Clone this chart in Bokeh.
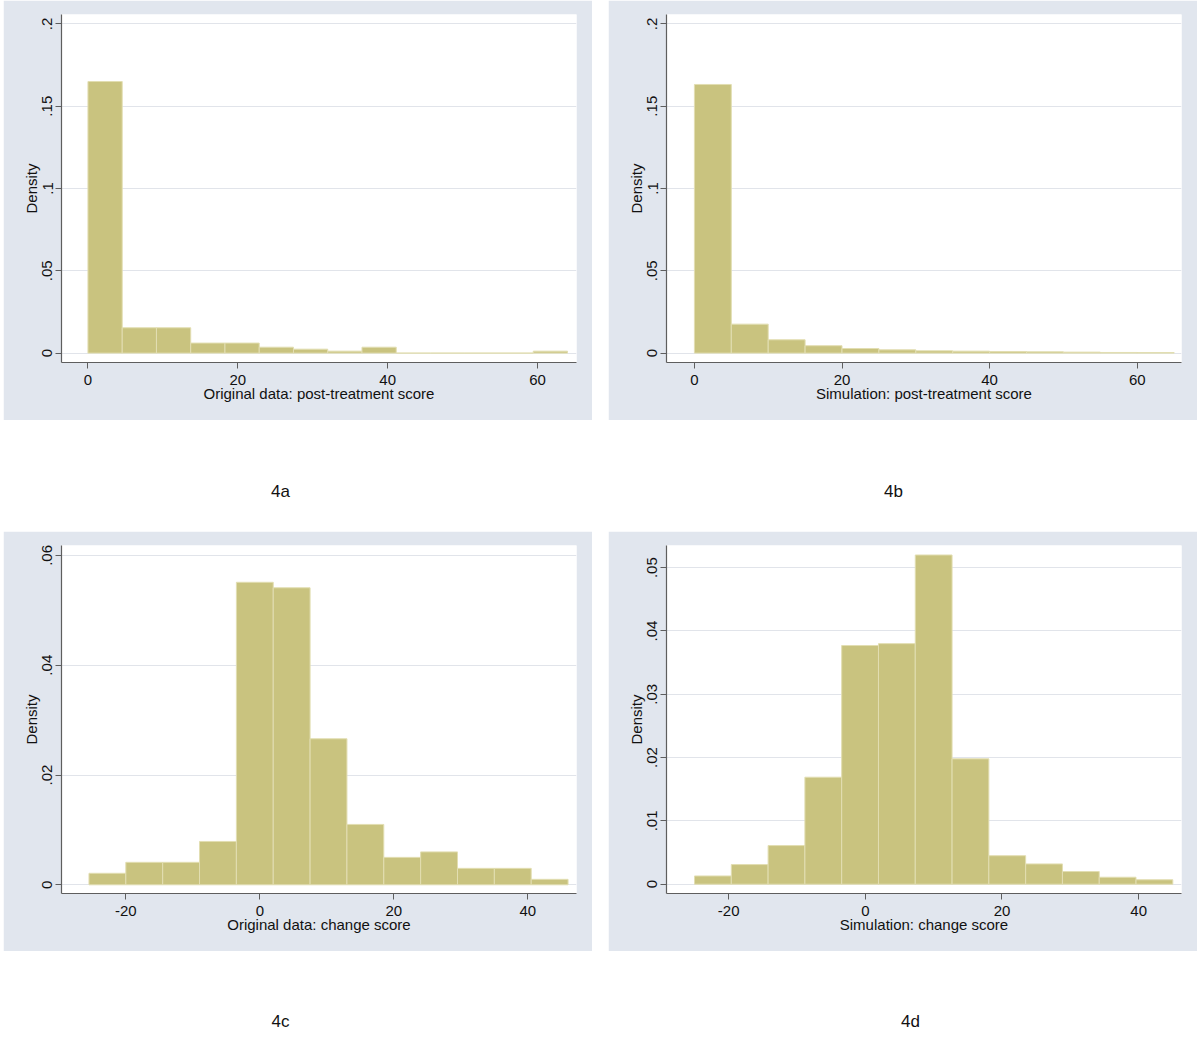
from bokeh.plotting import figure
from bokeh.models import Range1d, FixedTicker, Label, Spacer
from bokeh.layouts import column, row
from bokeh.embed import file_html
from bokeh.resources import INLINE

# ---------------- data ----------------
# 4a: original data, post-treatment score (14 bins from 0 to 64)
post_orig_start = 0.0
post_orig_width = 64 / 14
post_orig_density = [0.1650, 0.0154, 0.0154, 0.0061, 0.0061, 0.0036, 0.0024,
                     0.0012, 0.0036, 0.0, 0.0, 0.0, 0.0, 0.0012]

# 4b: simulation, post-treatment score (13 bins of width 5 from 0)
post_sim_start = 0.0
post_sim_width = 5.0
post_sim_density = [0.1632, 0.0176, 0.0081, 0.0045, 0.0028, 0.0020, 0.0014,
                    0.0012, 0.0010, 0.0008, 0.0006, 0.0004, 0.0003]

# 4c: original data, change score (13 bins of width 5.5 from -25.5)
chg_orig_start = -25.5
chg_orig_width = 5.5
chg_orig_density = [0.0021, 0.0041, 0.0041, 0.0079, 0.0551, 0.0541, 0.0266,
                    0.0110, 0.0050, 0.0060, 0.0030, 0.0030, 0.0010]

# 4d: simulation, change score (13 bins from -25 to 45)
chg_sim_start = -25.0
chg_sim_width = 70 / 13
chg_sim_density = [0.0013, 0.0031, 0.0061, 0.0169, 0.0377, 0.0380, 0.0520,
                   0.0198, 0.0045, 0.0032, 0.0020, 0.0011, 0.0007]

post_xticks = [0, 20, 40, 60]
post_xlabels = ["0", "20", "40", "60"]
chg_xticks = [-20, 0, 20, 40]
chg_xlabels = ["-20", "0", "20", "40"]
post_yticks = [0, 0.05, 0.1, 0.15, 0.2]
post_ylabels = ["0", ".05", ".1", ".15", ".2"]
chg_orig_yticks = [0, 0.02, 0.04, 0.06]
chg_orig_ylabels = ["0", ".02", ".04", ".06"]
chg_sim_yticks = [0, 0.01, 0.02, 0.03, 0.04, 0.05]
chg_sim_ylabels = ["0", ".01", ".02", ".03", ".04", ".05"]

titles = ["Original data: post-treatment score", "Simulation: post-treatment score",
          "Original data: change score", "Simulation: change score"]
captions = ["4a", "4b", "4c", "4d"]

# ---------------- style ----------------
BG = "#E1E6EE"
BAR = "#C9C37F"
BAR_LINE = "#E2DEB2"
GRID = "#E1E4EA"
AXIS = "#5E5E5E"
TXT = "#111111"
FONT = "Liberation Sans"
PW, PH = 589, 420
LEFT_PAD, GAP = 3, 16


def make_panel(start, width, dens, xr, yr, xticks, xlabels, yticks, ylabels, xtitle):
    lefts = [start + i * width for i in range(len(dens))]
    rights = [start + (i + 1) * width for i in range(len(dens))]
    p = figure(width=PW, height=PH, output_backend="svg", toolbar_location=None,
               x_range=Range1d(*xr), y_range=Range1d(*yr),
               min_border_left=58, min_border_right=16, min_border_top=14,
               min_border_bottom=58, background_fill_color="white",
               border_fill_color=BG, outline_line_color=None)
    p.xgrid.visible = False
    p.ygrid.ticker = FixedTicker(ticks=yticks, minor_ticks=[])
    p.ygrid.grid_line_color = GRID
    p.ygrid.grid_line_width = 1
    p.quad(left=lefts, right=rights, bottom=0, top=dens,
           fill_color=BAR, line_color=BAR_LINE, line_width=1)

    p.xaxis.ticker = FixedTicker(ticks=xticks, minor_ticks=[])
    p.xaxis.major_label_overrides = {t: l for t, l in zip(xticks, xlabels)}
    p.yaxis.ticker = FixedTicker(ticks=yticks, minor_ticks=[])
    p.yaxis.major_label_overrides = {t: l for t, l in zip(yticks, ylabels)}
    p.yaxis.major_label_orientation = "vertical"
    p.xaxis.axis_label = xtitle
    p.yaxis.axis_label = "Density"
    for ax in (p.xaxis, p.yaxis):
        ax.axis_line_color = AXIS
        ax.axis_line_width = 1.2
        ax.major_tick_line_color = AXIS
        ax.major_tick_in = 0
        ax.major_tick_out = 6
        ax.minor_tick_line_color = None
        ax.major_label_text_font = FONT
        ax.major_label_text_font_size = "15px"
        ax.major_label_text_color = TXT
        ax.axis_label_text_font = FONT
        ax.axis_label_text_font_size = "15px"
        ax.axis_label_text_font_style = "normal"
        ax.axis_label_text_color = TXT
    p.xaxis.major_label_standoff = 6
    p.xaxis.axis_label_standoff = -3
    p.yaxis.major_label_standoff = 3
    p.yaxis.axis_label_standoff = 0
    return p


fa = make_panel(post_orig_start, post_orig_width, post_orig_density,
                (-3.53, 65.2), (-0.0057, 0.2057), post_xticks, post_xlabels,
                post_yticks, post_ylabels, titles[0])
fb = make_panel(post_sim_start, post_sim_width, post_sim_density,
                (-3.78, 66.0), (-0.0057, 0.2057), post_xticks, post_xlabels,
                post_yticks, post_ylabels, titles[1])
fc = make_panel(chg_orig_start, chg_orig_width, chg_orig_density,
                (-29.6, 47.26), (-0.00158, 0.0618), chg_xticks, chg_xlabels,
                chg_orig_yticks, chg_orig_ylabels, titles[2])
fd = make_panel(chg_sim_start, chg_sim_width, chg_sim_density,
                (-29.1, 46.27), (-0.00147, 0.0535), chg_xticks, chg_xlabels,
                chg_sim_yticks, chg_sim_ylabels, titles[3])

TOTAL_W = LEFT_PAD + 2 * PW + GAP


def caption_strip(h, texts, xs, y):
    c = figure(width=TOTAL_W, height=h, output_backend="svg", toolbar_location=None,
               x_range=Range1d(0, TOTAL_W), y_range=Range1d(0, h),
               x_axis_location=None, y_axis_location=None, min_border=0,
               outline_line_color=None, background_fill_color="white",
               border_fill_color="white")
    c.grid.visible = False
    for t, x in zip(texts, xs):
        c.add_layout(Label(x=x, y=y, x_units="screen", y_units="screen", text=t,
                           text_align="center", text_baseline="middle",
                           text_font=FONT, text_font_size="17px", text_color=TXT))
    return c


cap1 = caption_strip(111, captions[:2], [280, 893], 40)
cap2 = caption_strip(80, captions[2:], [280, 910], 10)

layout = column(
    row(Spacer(width=LEFT_PAD, height=PH), fa, Spacer(width=GAP, height=PH), fb, spacing=0),
    cap1,
    row(Spacer(width=LEFT_PAD, height=PH), fc, Spacer(width=GAP, height=PH), fd, spacing=0),
    cap2,
    spacing=0)

open("out.html", "w").write(file_html(layout, INLINE))
